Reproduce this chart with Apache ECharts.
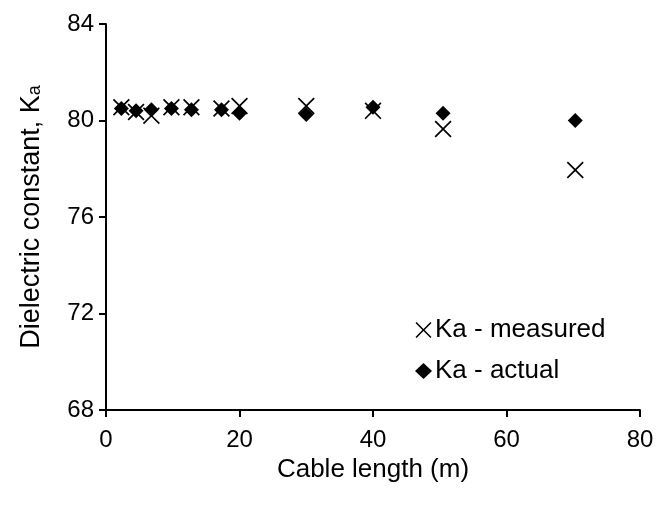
<!DOCTYPE html>
<html>
<head>
<meta charset="utf-8">
<script src="https://cdn.jsdelivr.net/npm/echarts@6/dist/echarts.min.js"></script>
<style>
html,body{margin:0;padding:0;background:#fff;}
#chart{width:657px;height:511px;}
</style>
</head>
<body>
<div id="chart"></div>
<script>
// 电缆长度 (m)
var cableLength = [2.3, 4.5, 6.8, 9.8, 12.8, 17.3, 20, 30, 40, 50.5, 70.3];
// Ka 测量值
var kaMeasured = [80.55, 80.35, 80.2, 80.55, 80.55, 80.5, 80.6, 80.6, 80.4, 79.65, 77.95];
// Ka 实际值
var kaActual = [80.5, 80.4, 80.45, 80.5, 80.45, 80.45, 80.3, 80.25, 80.55, 80.3, 80.0];
var yTicks = [68, 72, 76, 80, 84];
var xTicks = [0, 20, 40, 60, 80];

var crossPath = 'path://M0,0.7 L0.7,0 L5,4.3 L9.3,0 L10,0.7 L5.7,5 L10,9.3 L9.3,10 L5,5.7 L0.7,10 L0,9.3 L4.3,5 Z';

function pairs(xs, ys){
    var out = [];
    for(var i=0;i<xs.length;i++){
        out.push([xs[i], ys[i]]);
    }
    return out;
}

var myChart = echarts.init(document.getElementById('chart'));
var font = 'Liberation Sans, Arial, sans-serif';
option = {
    animation: false,
    textStyle: {fontFamily: font, color: '#000'},
    grid: {left: 106, right: 17, top: 24, bottom: 101},
    legend: {
        orient: 'vertical',
        left: 410,
        top: 312,
        itemGap: 15,
        itemWidth: 17,
        itemHeight: 16,
        textStyle: {fontSize: 26, color: '#000', fontFamily: font, padding: [0, 0, 0, -2]},
        data: [
            {name: 'Ka - measured', icon: crossPath},
            {name: 'Ka - actual', icon: 'diamond'}
        ]
    },
    xAxis: {
        type: 'value',
        min: xTicks[0],
        max: xTicks[xTicks.length-1],
        interval: 20,
        name: 'Cable length (m)',
        nameLocation: 'middle',
        nameGap: 46,
        nameTextStyle: {fontSize: 26, color: '#000'},
        axisLine: {lineStyle: {color: '#000', width: 2}},
        axisTick: {length: 7, lineStyle: {color: '#000', width: 2}},
        axisLabel: {fontSize: 24, color: '#000', margin: 18},
        splitLine: {show: false}
    },
    yAxis: {
        type: 'value',
        min: yTicks[0],
        max: yTicks[yTicks.length-1],
        interval: 4,
        name: '{n|Dielectric constant, K}{s|a}',
        nameLocation: 'middle',
        nameGap: 61,
        nameTextStyle: {
            rich: {
                n: {fontSize: 27, color: '#000', fontFamily: font},
                s: {fontSize: 18, color: '#000', fontFamily: font, padding: [8, 0, 0, 0]}
            }
        },
        axisLine: {show: true, lineStyle: {color: '#000', width: 2}},
        axisTick: {show: true, length: 7, lineStyle: {color: '#000', width: 2}},
        axisLabel: {fontSize: 24, color: '#000', margin: 12},
        splitLine: {show: false}
    },
    series: [
        {
            name: 'Ka - measured',
            type: 'scatter',
            symbol: crossPath,
            symbolSize: 17,
            itemStyle: {color: '#000', opacity: 1},
            data: pairs(cableLength, kaMeasured),
            z: 3
        },
        {
            name: 'Ka - actual',
            type: 'scatter',
            symbol: 'diamond',
            symbolSize: 15,
            itemStyle: {color: '#000', opacity: 1},
            data: pairs(cableLength, kaActual),
            z: 2
        }
    ]
};
myChart.setOption(option);
</script>
</body>
</html>
